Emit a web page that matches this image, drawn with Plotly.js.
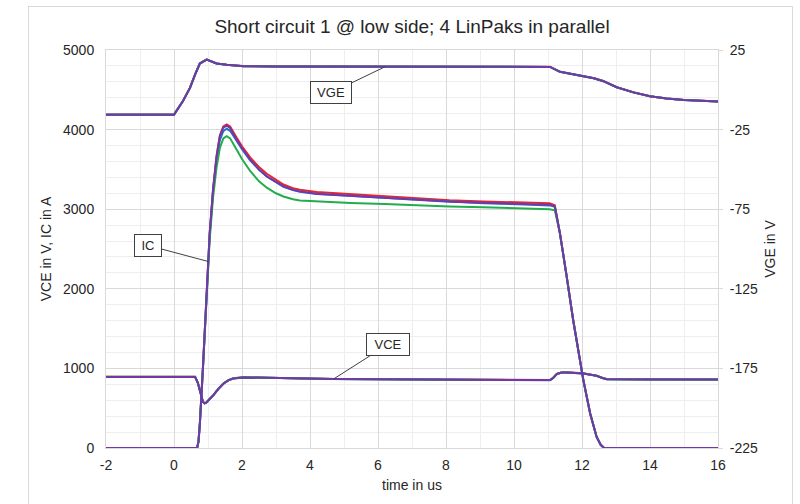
<!DOCTYPE html>
<html>
<head>
<meta charset="utf-8">
<script src="https://cdn.plot.ly/plotly-3.0.1.min.js"></script>
<style>
  html, body { margin: 0; padding: 0; background: #ffffff; }
  #wrap { position: relative; width: 800px; height: 504px; overflow: hidden; }
  #chart { position: absolute; left: 0; top: 0; width: 800px; height: 504px; }
  #frame { position: absolute; left: 28px; top: 6px; width: 763px; height: 520px;
           border: 1px solid #d9d9d9; pointer-events: none; }
</style>
</head>
<body>
<div id="wrap">
  <div id="chart"></div>
  <div id="frame"></div>
</div>
<script>
// ---- Data ----
const chartTitle = "Short circuit 1 @ low side; 4 LinPaks in parallel";
const xTitle = "time in us";
const yTitle = "VCE in V, IC in A";
const y2Title = "VGE in V";
const moduleNames = ["LinPak 1", "LinPak 2", "LinPak 3", "LinPak 4"];
const moduleColors = ["#e8262b", "#2770c8", "#21ad4b", "#7038a8"];

// Tick values / labels (plain hyphen minus as in the reference)
const xTickVals = [-2, 0, 2, 4, 6, 8, 10, 12, 14, 16];
const xTickText = ["-2", "0", "2", "4", "6", "8", "10", "12", "14", "16"];
const yTickVals = [0, 1000, 2000, 3000, 4000, 5000];
const yTickText = ["0", "1000", "2000", "3000", "4000", "5000"];
const y2TickVals = [-225, -175, -125, -75, -25, 25];
const y2TickText = ["-225", "-175", "-125", "-75", "-25", "25"];

// Collector current IC (A), left axis
const tIC = [-2, 0.68, 0.72, 0.76, 0.85, 0.95, 1.05, 1.15, 1.25, 1.35, 1.45, 1.55, 1.65, 1.84, 2.0, 2.24, 2.5, 2.73, 3.0, 3.22, 3.5, 3.7, 4.2, 5.2, 6.2, 7.1, 8.1, 9.1, 10.1, 11.05, 11.2, 11.35, 11.55, 11.74, 11.94, 12.04, 12.24, 12.43, 12.55, 12.65, 13.0, 16];
const icRed    = [0, 0, 80, 300, 1000, 1900, 2700, 3260, 3670, 3930, 4040, 4065, 4040, 3900, 3790, 3650, 3530, 3445, 3365, 3310, 3265, 3245, 3215, 3190, 3168, 3140, 3112, 3098, 3088, 3075, 3050, 2700, 2154, 1608, 1104, 853, 433, 139, 40, 0, 0, 0];
const icBlue   = [0, 0, 80, 300, 1000, 1890, 2680, 3230, 3620, 3870, 3980, 4010, 3985, 3860, 3755, 3615, 3495, 3410, 3335, 3280, 3240, 3220, 3190, 3165, 3145, 3118, 3092, 3075, 3062, 3048, 3030, 2700, 2154, 1608, 1104, 853, 433, 139, 40, 0, 0, 0];
const icGreen  = [0, 0, 80, 300, 990, 1860, 2620, 3150, 3520, 3770, 3890, 3917, 3890, 3750, 3630, 3480, 3350, 3270, 3200, 3160, 3125, 3110, 3098, 3078, 3065, 3048, 3035, 3025, 3015, 2998, 2985, 2700, 2154, 1608, 1104, 853, 433, 139, 40, 0, 0, 0];
const icPurple = [0, 0, 80, 300, 1000, 1900, 2700, 3250, 3650, 3920, 4025, 4050, 4020, 3875, 3765, 3623, 3500, 3413, 3340, 3287, 3245, 3224, 3195, 3170, 3149, 3120, 3095, 3080, 3068, 3057, 3035, 2700, 2154, 1608, 1104, 853, 433, 139, 40, 0, 0, 0];

// Collector-emitter voltage VCE (V), left axis
const tVCE = [-2, 0.62, 0.7, 0.78, 0.85, 0.9, 0.95, 1.05, 1.16, 1.3, 1.46, 1.6, 1.75, 2.04, 2.5, 3.5, 4.69, 6.0, 8.1, 10.0, 11.06, 11.15, 11.26, 11.4, 11.55, 12.04, 12.25, 12.43, 12.6, 12.73, 14.0, 16];
const vceRed    = [895, 895, 822, 682, 582, 562, 572, 617, 666, 742, 813, 852, 876, 889, 887, 877, 868, 866, 864, 859, 854, 881, 931, 949, 951, 938, 926, 908, 881, 866, 863, 861];
const vceBlue   = [893, 893, 820, 680, 580, 560, 570, 615, 664, 740, 811, 850, 874, 887, 885, 875, 866, 864, 862, 857, 852, 879, 929, 947, 949, 936, 924, 906, 879, 864, 861, 859];
const vceGreen  = [894, 894, 821, 681, 581, 561, 571, 616, 665, 741, 812, 851, 875, 888, 886, 876, 867, 865, 863, 858, 853, 880, 930, 948, 950, 937, 925, 907, 880, 865, 862, 860];
const vcePurple = [893, 893, 820, 680, 580, 560, 570, 615, 664, 740, 811, 850, 874, 887, 885, 875, 866, 864, 862, 857, 853, 880, 930, 948, 950, 937, 925, 907, 880, 865, 862, 860];

// Gate-emitter voltage VGE (V), right axis
const tVGE = [-2, 0.0, 0.26, 0.47, 0.62, 0.76, 0.96, 1.1, 1.25, 1.55, 2.04, 3.0, 6.0, 9.0, 11.06, 11.35, 12.04, 12.35, 12.63, 13.02, 13.51, 14.0, 14.49, 14.98, 16];
const vgeRed    = [-15.5, -15.5, -7.1, 1.3, 9.7, 16.6, 19.1, 18.1, 16.6, 15.8, 14.9, 14.7, 14.6, 14.5, 14.5, 11.4, 8.6, 7.3, 5.5, 1.7, -1.5, -4.0, -5.4, -6.3, -7.3];
const vgeBlue   = [-15.6, -15.6, -7.2, 1.2, 9.6, 16.5, 19.0, 18.0, 16.5, 15.7, 14.8, 14.6, 14.5, 14.4, 14.4, 11.3, 8.5, 7.2, 5.4, 1.6, -1.6, -4.1, -5.5, -6.4, -7.4];
const vgeGreen  = [-15.6, -15.6, -7.2, 1.2, 9.6, 16.5, 19.0, 18.0, 16.5, 15.7, 14.8, 14.6, 14.5, 14.4, 14.4, 11.3, 8.5, 7.2, 5.4, 1.6, -1.6, -4.1, -5.5, -6.4, -7.4];
const vgePurple = [-15.6, -15.6, -7.2, 1.2, 9.6, 16.5, 19.0, 18.0, 16.5, 15.7, 14.8, 14.6, 14.5, 14.4, 14.4, 11.3, 8.5, 7.2, 5.4, 1.6, -1.6, -4.1, -5.5, -6.4, -7.4];

// Axis ranges
const xRange = [-2, 16];
const yRange = [0, 5000];
const y2Range = [-225, 25];

// ---- Build traces ----
const icSets = [icRed, icBlue, icGreen, icPurple];
const vceSets = [vceRed, vceBlue, vceGreen, vcePurple];
const vgeSets = [vgeRed, vgeBlue, vgeGreen, vgePurple];

const traces = [];
for (let i = 0; i < 4; i++) {
  const line = {color: moduleColors[i], width: 2};
  traces.push({x: tVGE, y: vgeSets[i], yaxis: 'y2', type: 'scatter', mode: 'lines', line: line, name: moduleNames[i] + ' VGE', showlegend: false});
  traces.push({x: tVCE, y: vceSets[i], type: 'scatter', mode: 'lines', line: line, name: moduleNames[i] + ' VCE', showlegend: false});
  traces.push({x: tIC, y: icSets[i], type: 'scatter', mode: 'lines', line: line, name: moduleNames[i] + ' IC', showlegend: false});
}

const fontFam = 'Liberation Sans, Arial, sans-serif';
const gridC = '#d9d9d9';
const minorC = '#eeeeee';
const txtC = '#262626';

const annBase = {
  showarrow: true, arrowhead: 0, arrowwidth: 1, arrowcolor: '#404040',
  bordercolor: '#404040', borderwidth: 1, borderpad: 3, bgcolor: '#ffffff',
  font: {family: fontFam, size: 13, color: txtC}, standoff: 0
};

const layout = {
  width: 800, height: 504,
  margin: {l: 106, r: 82, t: 50, b: 56},
  paper_bgcolor: '#ffffff', plot_bgcolor: '#ffffff',
  font: {family: fontFam, color: txtC},
  showlegend: false,
  title: {text: chartTitle, font: {family: fontFam, size: 19, color: txtC}, x: 0.515, xanchor: 'center', y: 0.948, yanchor: 'middle'},
  xaxis: {
    range: xRange, tickmode: 'array', tickvals: xTickVals, ticktext: xTickText,
    showgrid: true, gridcolor: gridC, gridwidth: 1,
    minor: {dtick: 1, tick0: 0, showgrid: true, gridcolor: minorC, gridwidth: 1},
    zeroline: false, showline: true, linecolor: gridC, mirror: true, ticks: '',
    ticklabelstandoff: 4,
    tickfont: {family: fontFam, size: 14, color: txtC},
    title: {text: xTitle, font: {family: fontFam, size: 14, color: txtC}, standoff: 8}
  },
  yaxis: {
    range: yRange, tickmode: 'array', tickvals: yTickVals, ticktext: yTickText,
    showgrid: true, gridcolor: gridC, gridwidth: 1,
    minor: {dtick: 200, tick0: 0, showgrid: true, gridcolor: minorC, gridwidth: 1},
    zeroline: false, showline: true, linecolor: gridC, mirror: true, ticks: '',
    ticklabelstandoff: 8,
    tickfont: {family: fontFam, size: 14, color: txtC},
    title: {text: yTitle, font: {family: fontFam, size: 14, color: txtC}, standoff: 8}
  },
  yaxis2: {
    range: y2Range, tickmode: 'array', tickvals: y2TickVals, ticktext: y2TickText,
    overlaying: 'y', side: 'right', showgrid: false,
    zeroline: false, showline: false, ticks: 'outside', ticklen: 4, tickcolor: gridC,
    ticklabelstandoff: 4,
    tickfont: {family: fontFam, size: 14, color: txtC},
    title: {text: y2Title, font: {family: fontFam, size: 14, color: txtC}, standoff: 8}
  },
  annotations: [
    Object.assign({}, annBase, {text: 'VGE', x: 6.2, y: 14.4, xref: 'x', yref: 'y2', ax: -54, ay: 26, width: 34, height: 15}),
    Object.assign({}, annBase, {text: 'IC', x: 1.01, y: 2343, xref: 'x', yref: 'y', ax: -60, ay: -16, width: 20, height: 15}),
    Object.assign({}, annBase, {text: 'VCE', x: 4.69, y: 866, xref: 'x', yref: 'y', ax: 55, ay: -35, width: 36, height: 15})
  ]
};

Plotly.newPlot('chart', traces, layout, {displayModeBar: false, staticPlot: true});
</script>
</body>
</html>
